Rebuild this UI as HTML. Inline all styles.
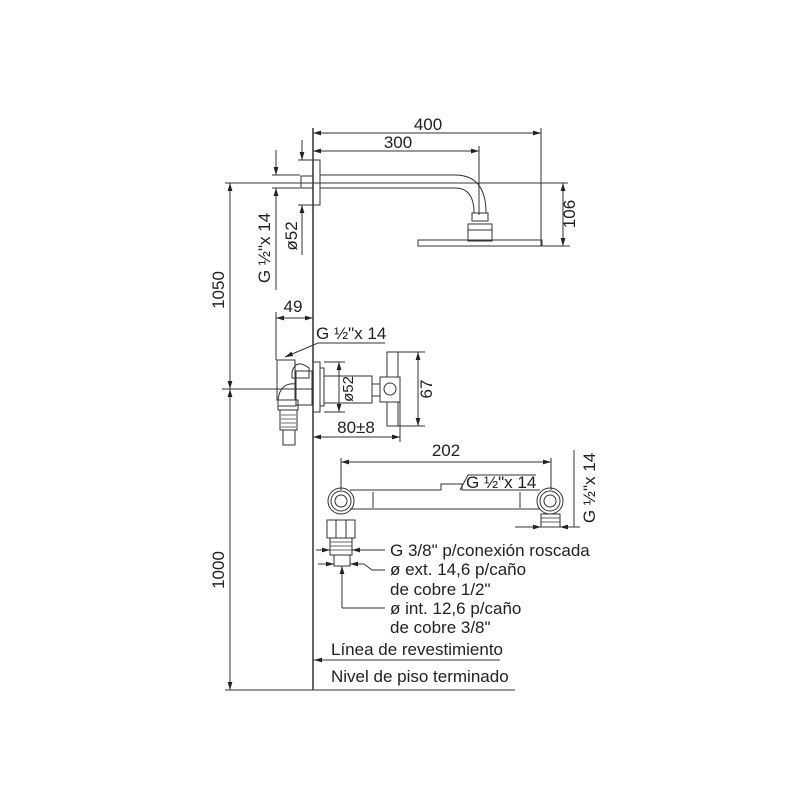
<!DOCTYPE html>
<html><head><style>
html,body{margin:0;padding:0;background:#fff;}
svg{display:block;}
text{font-family:"Liberation Sans",sans-serif;fill:#222;}
</style></head><body>
<svg width="800" height="800" viewBox="0 0 800 800" xmlns="http://www.w3.org/2000/svg">
<defs>
<marker id="a" viewBox="0 0 10 6" refX="10" refY="3" markerWidth="8" markerHeight="5" orient="auto-start-reverse" markerUnits="userSpaceOnUse"><path d="M0,0L10,3L0,6z" fill="#222"/></marker>
</defs>
<g stroke="#333" fill="none" stroke-width="1">
<line x1="313" y1="128" x2="313" y2="690" stroke-width="1.5"/>
<line x1="225" y1="183" x2="568" y2="183"/>
<line x1="222" y1="389" x2="313" y2="389"/>
<line x1="225" y1="690" x2="515" y2="690"/>
<line x1="313" y1="660" x2="500" y2="660"/>
<line x1="230" y1="183" x2="230" y2="389" marker-start="url(#a)" marker-end="url(#a)"/>
<line x1="230" y1="389" x2="230" y2="690" marker-start="url(#a)" marker-end="url(#a)"/>
<line x1="276" y1="150" x2="276" y2="175" marker-end="url(#a)"/>
<line x1="272" y1="175" x2="300" y2="175"/>
<line x1="272" y1="188" x2="300" y2="188"/>
<line x1="276" y1="290" x2="276" y2="188" marker-end="url(#a)"/>
<line x1="302" y1="140" x2="302" y2="160" marker-end="url(#a)"/>
<line x1="298" y1="160" x2="313" y2="160"/>
<line x1="298" y1="205" x2="313" y2="205"/>
<line x1="302" y1="255" x2="302" y2="205" marker-end="url(#a)"/>
<rect x="313" y="160" width="7" height="45"/>
<rect x="301" y="176" width="12" height="12"/>
<path d="M320,175 H455 Q486,175 486,213"/>
<path d="M320,188 H455 Q474,188 474,213"/>
<rect x="472" y="213" width="16" height="8"/>
<rect x="468" y="224" width="24" height="17"/>
<line x1="468" y1="230" x2="492" y2="230"/>
<rect x="418" y="240" width="124" height="6"/>
<line x1="541" y1="128" x2="541" y2="246"/>
<line x1="479" y1="146" x2="479" y2="215"/>
<line x1="313" y1="133" x2="541" y2="133" marker-start="url(#a)" marker-end="url(#a)"/>
<line x1="313" y1="151" x2="479" y2="151" marker-start="url(#a)" marker-end="url(#a)"/>
<line x1="542" y1="246" x2="570" y2="246"/>
<line x1="563" y1="183" x2="563" y2="246" marker-start="url(#a)" marker-end="url(#a)"/>
<line x1="276" y1="312" x2="276" y2="360"/>
<line x1="276" y1="318" x2="313" y2="318" marker-start="url(#a)" marker-end="url(#a)"/>
<path d="M385,343 H318 L285,357" marker-end="url(#a)"/>
<rect x="277" y="360" width="18" height="40"/>
<path d="M292,372 q4,-14 17,-4 v10 h-17z"/>
<path d="M278,400 q2,-18 18,-16 v22 h-18z"/>
<rect x="296" y="371" width="16" height="34"/>
<rect x="278" y="400" width="20" height="10"/>
<rect x="280" y="410" width="17" height="20"/>
<rect x="283" y="430" width="12" height="15"/>
<g stroke-width="0.7"><line x1="281" y1="415" x2="296" y2="415"/><line x1="281" y1="419" x2="296" y2="419"/><line x1="281" y1="423" x2="296" y2="423"/><line x1="281" y1="427" x2="296" y2="427"/></g>
<rect x="313" y="362" width="7" height="50"/>
<rect x="320" y="368" width="4" height="38"/>
<rect x="324" y="376" width="48" height="27"/>
<line x1="324" y1="362" x2="345" y2="362"/>
<line x1="324" y1="412" x2="345" y2="412"/>
<line x1="339" y1="362" x2="339" y2="412" marker-start="url(#a)" marker-end="url(#a)"/>
<rect x="372" y="384" width="8" height="12"/>
<rect x="380" y="377" width="20" height="25"/>
<circle cx="390" cy="389" r="6"/>
<rect x="387" y="352" width="11" height="25"/>
<rect x="387" y="402" width="11" height="24"/>
<line x1="398" y1="352" x2="425" y2="352"/>
<line x1="398" y1="426" x2="425" y2="426"/>
<line x1="418" y1="352" x2="418" y2="426" marker-start="url(#a)" marker-end="url(#a)"/>
<line x1="400" y1="402" x2="400" y2="442"/>
<line x1="313" y1="437" x2="400" y2="437" marker-start="url(#a)" marker-end="url(#a)"/>
<line x1="341" y1="458" x2="341" y2="490"/>
<line x1="551" y1="458" x2="551" y2="490"/>
<line x1="341" y1="462" x2="551" y2="462" marker-start="url(#a)" marker-end="url(#a)"/>
<path d="M350,490 H441 V484 H462 V490 H540"/>
<line x1="350" y1="509" x2="540" y2="509"/>
<line x1="373" y1="492" x2="373" y2="508"/>
<line x1="520" y1="492" x2="520" y2="508"/>
<path d="M460,490 L468,475 H536"/>
<circle cx="341" cy="501" r="13"/><circle cx="341" cy="501" r="6"/><circle cx="341" cy="501" r="10"/>
<circle cx="550" cy="501" r="13"/><circle cx="550" cy="501" r="6"/><circle cx="550" cy="501" r="10"/>
<rect x="327" y="520" width="28" height="18"/>
<line x1="336" y1="520" x2="336" y2="538"/><line x1="346" y1="520" x2="346" y2="538"/>
<rect x="330" y="538" width="22" height="17"/>
<g stroke-width="0.7"><line x1="330" y1="542" x2="352" y2="542"/><line x1="330" y1="546" x2="352" y2="546"/><line x1="330" y1="550" x2="352" y2="550"/></g>
<rect x="334" y="555" width="16" height="11"/>
<rect x="541" y="514" width="19" height="13"/>
<g stroke-width="0.7"><line x1="541" y1="518" x2="560" y2="518"/><line x1="541" y1="522" x2="560" y2="522"/></g>
<line x1="515" y1="527" x2="541" y2="527" marker-end="url(#a)"/>
<line x1="580" y1="527" x2="560" y2="527" marker-end="url(#a)"/>
<line x1="574" y1="450" x2="574" y2="527"/>
<line x1="316" y1="550" x2="330" y2="550" marker-end="url(#a)"/>
<line x1="366" y1="550" x2="352" y2="550" marker-end="url(#a)"/>
<line x1="366" y1="550" x2="385" y2="550"/>
<line x1="318" y1="564" x2="334" y2="564" marker-end="url(#a)"/>
<path d="M364,564 H350" marker-end="url(#a)"/>
<path d="M364,564 L372,570 H385"/>
<path d="M342,608 V566" marker-end="url(#a)"/>
<path d="M342,608 H385"/>
<line x1="500" y1="660" x2="314" y2="660" marker-end="url(#a)"/>
</g>
<g font-size="17">
<text x="428" y="130" text-anchor="middle">400</text>
<text x="398" y="148" text-anchor="middle">300</text>
<text x="293" y="312" text-anchor="middle">49</text>
<text x="316" y="339">G ½"x 14</text>
<text x="356" y="433" text-anchor="middle">80±8</text>
<text x="446" y="456" text-anchor="middle">202</text>
<text x="466" y="488">G ½"x 14</text>
<text x="390" y="556">G 3/8" p/conexión roscada</text>
<text x="390" y="575">ø ext. 14,6 p/caño</text>
<text x="390" y="595">de cobre 1/2"</text>
<text x="390" y="614">ø int. 12,6 p/caño</text>
<text x="390" y="633">de cobre 3/8"</text>
<text x="331" y="655">Línea de revestimiento</text>
<text x="331" y="682">Nivel de piso terminado</text>
<text transform="translate(224,290) rotate(-90)" text-anchor="middle">1050</text>
<text transform="translate(224,570) rotate(-90)" text-anchor="middle">1000</text>
<text transform="translate(270,248) rotate(-90)" text-anchor="middle">G ½"x 14</text>
<text transform="translate(297,236) rotate(-90)" text-anchor="middle">ø52</text>
<text transform="translate(575,214) rotate(-90)" text-anchor="middle">106</text>
<text transform="translate(432,389) rotate(-90)" text-anchor="middle">67</text>
<text transform="translate(595,488) rotate(-90)" text-anchor="middle">G ½"x 14</text>
<text transform="translate(353,389) rotate(-90)" text-anchor="middle" font-size="15">ø52</text>
</g>
</svg>
</body></html>
